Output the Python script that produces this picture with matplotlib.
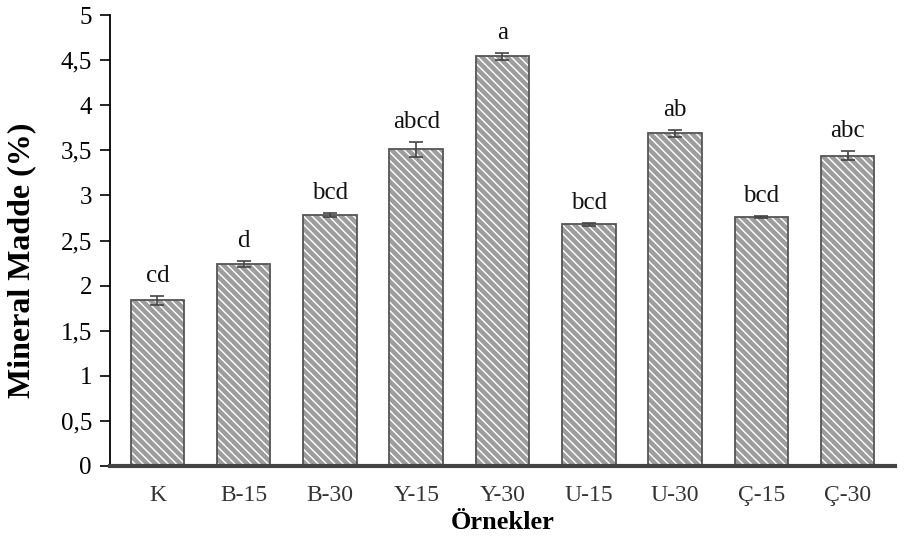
import matplotlib
matplotlib.use("Agg")
import matplotlib.pyplot as plt
from matplotlib.ticker import FuncFormatter

categories = ["K", "B-15", "B-30", "Y-15", "Y-30", "U-15", "U-30", "Ç-15", "Ç-30"]
values = [1.84, 2.24, 2.78, 3.51, 4.54, 2.68, 3.69, 2.76, 3.44]
errors = [0.05, 0.03, 0.02, 0.085, 0.04, 0.015, 0.04, 0.01, 0.05]
letters = ["cd", "d", "bcd", "abcd", "a", "bcd", "ab", "bcd", "abc"]

plt.rcParams['font.family'] = ['Liberation Serif', 'DejaVu Serif']
plt.rcParams['hatch.linewidth'] = 3.2

fig = plt.figure(figsize=(9.08, 5.54), dpi=100)
ax = fig.add_axes([110/908, 1 - 466/554, 785/908, (466 - 15)/554])

x = list(range(len(categories)))
ax.bar(x, values, width=0.62, color='white', edgecolor='#9d9d9d',
       linewidth=0, hatch='\\\\\\\\', zorder=2)
ax.bar(x, values, width=0.62, fill=False, edgecolor='#555555',
       linewidth=1.3, zorder=2.5)
ax.errorbar(x, values, yerr=errors, fmt='none', ecolor='#444444',
            elinewidth=1.2, capsize=5, capthick=1.2, zorder=3)

for xi, v, e, lab in zip(x, values, errors, letters):
    ax.text(xi, v + e + 0.1, lab, ha='center', va='bottom', fontsize=18, color='#111111')

ax.set_xlim(-0.55, len(categories) - 0.45)
ax.set_ylim(0, 5)
ax.set_yticks([i * 0.5 for i in range(11)])
ax.yaxis.set_major_formatter(FuncFormatter(lambda v, p: (f"{v:g}").replace('.', ',')))
ax.set_xticks(x)
ax.set_xticklabels(categories)
ax.tick_params(axis='x', length=0, pad=14, labelsize=17, colors='#333333')
ax.tick_params(axis='y', length=7, width=1.2, direction='out', labelsize=18, pad=6)

for s in ['top', 'right']:
    ax.spines[s].set_visible(False)
ax.spines['left'].set_color('black')
ax.spines['left'].set_linewidth(1.3)
ax.spines['bottom'].set_color('#444444')
ax.spines['bottom'].set_linewidth(3)

ax.set_ylabel("Mineral Madde (%)", fontsize=23, fontweight='bold')
ax.yaxis.set_label_coords(-0.094, 0.455)
ax.set_xlabel("Örnekler", fontsize=19, fontweight='bold', labelpad=3)

fig.savefig("out.png", dpi=100)
